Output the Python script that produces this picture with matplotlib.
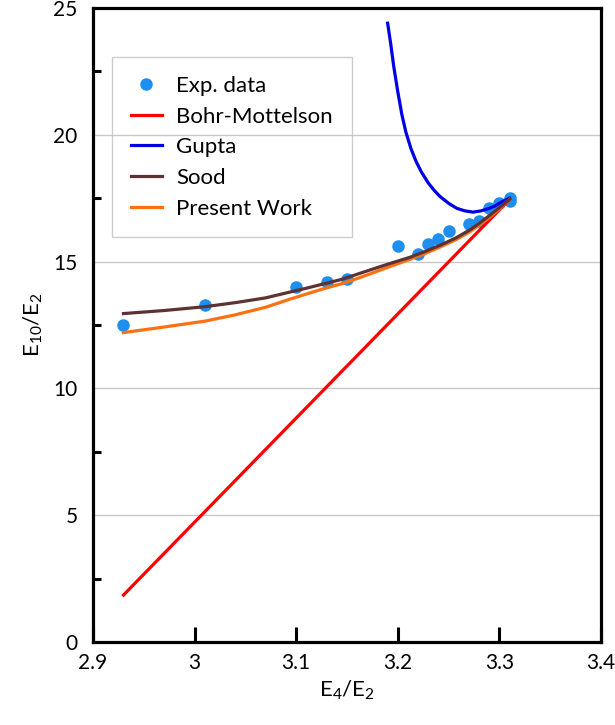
import numpy as np
import matplotlib.pyplot as plt

plt.rcParams['font.family'] = ['Lato', 'DejaVu Sans']
plt.rcParams['mathtext.fontset'] = 'custom'
plt.rcParams['mathtext.rm'] = 'Lato'
plt.rcParams['mathtext.it'] = 'Lato'

# Experimental points
exp_x = [2.93, 3.01, 3.10, 3.13, 3.15, 3.20, 3.22, 3.23, 3.24, 3.25, 3.27, 3.28, 3.29, 3.30, 3.31, 3.31]
exp_y = [12.5, 13.3, 14.0, 14.2, 14.3, 15.6, 15.3, 15.7, 15.9, 16.2, 16.5, 16.6, 17.1, 17.3, 17.5, 17.4]

# Model curves
bm_x = [2.93, 3.31]
bm_y = [1.85, 17.45]

gupta_x = [3.19, 3.193, 3.196, 3.20, 3.204, 3.208, 3.213, 3.218, 3.223, 3.23, 3.236,
           3.242, 3.25, 3.258, 3.266, 3.274, 3.282, 3.29, 3.296, 3.302, 3.31]
gupta_y = [24.4, 23.6, 22.7, 21.7, 20.8, 20.1, 19.45, 18.95, 18.55, 18.1, 17.8,
           17.55, 17.3, 17.1, 17.0, 16.95, 17.0, 17.1, 17.2, 17.35, 17.5]

sood_x = [2.93, 2.97, 3.01, 3.04, 3.07, 3.094, 3.11, 3.127, 3.145, 3.16, 3.175, 3.192,
          3.212, 3.227, 3.242, 3.257, 3.271, 3.281, 3.291, 3.30, 3.31]
sood_y = [12.95, 13.07, 13.22, 13.38, 13.57, 13.8, 13.95, 14.12, 14.3, 14.5, 14.7, 14.92,
          15.17, 15.4, 15.65, 15.93, 16.25, 16.53, 16.84, 17.13, 17.45]

present_x = [2.93, 2.97, 3.01, 3.04, 3.07, 3.094, 3.11, 3.127, 3.145, 3.16, 3.175, 3.192,
             3.212, 3.227, 3.242, 3.257, 3.271, 3.281, 3.291, 3.30, 3.31]
present_y = [12.2, 12.42, 12.65, 12.9, 13.2, 13.52, 13.72, 13.93, 14.13, 14.33, 14.55, 14.8,
             15.09, 15.32, 15.58, 15.86, 16.18, 16.46, 16.77, 17.08, 17.45]

fig = plt.figure(figsize=(6.15, 7.25), dpi=100)
ax = fig.add_axes([0.1512, 0.1145, 0.826, 0.8745])

ax.plot(exp_x, exp_y, 'o', color='#1E8FF0', markersize=8, label='Exp. data', zorder=3)
ax.plot(bm_x, bm_y, color='#FF0000', lw=2.3, label='Bohr-Mottelson', zorder=4)
ax.plot(gupta_x, gupta_y, color='#0000E6', lw=2.3, label='Gupta', zorder=4)
ax.plot(sood_x, sood_y, color='#5E3232', lw=2.3, label='Sood', zorder=5)
ax.plot(present_x, present_y, color='#FF7011', lw=2.3, label='Present Work', zorder=4)

ax.set_xlim(2.9, 3.4)
ax.set_ylim(0, 25)
ax.set_xticks([2.9, 3.0, 3.1, 3.2, 3.3, 3.4])
ax.set_xticklabels(['2.9', '3', '3.1', '3.2', '3.3', '3.4'])
ax.set_yticks([0, 5, 10, 15, 20, 25])
ax.set_yticks([2.5, 7.5, 12.5, 17.5, 22.5], minor=True)

ax.tick_params(axis='x', direction='in', length=11, width=2.2, labelsize=15, pad=8)
ax.tick_params(axis='y', which='major', length=0, labelsize=15, pad=11)
ax.tick_params(axis='y', which='minor', direction='in', length=5.5, width=2.2)

ax.grid(axis='y', color='#C8C8C8', lw=1)
ax.set_axisbelow(True)
for s in ax.spines.values():
    s.set_linewidth(2.3)

ax.set_xlabel('E$_4$/E$_2$', fontsize=16, labelpad=4)
ax.set_ylabel('E$_{10}$/E$_2$', fontsize=16, labelpad=6)

leg = ax.legend(loc='upper left', bbox_to_anchor=(0.0374, 0.9227), borderaxespad=0,
                fontsize=16, fancybox=False, frameon=True, handlelength=1.4,
                handletextpad=0.65, labelspacing=0.48, borderpad=0.85)
leg.get_frame().set_edgecolor('#C0C0C0')
leg.get_frame().set_facecolor('none')
leg.get_frame().set_linewidth(1)

fig.savefig('out.png', dpi=100)
